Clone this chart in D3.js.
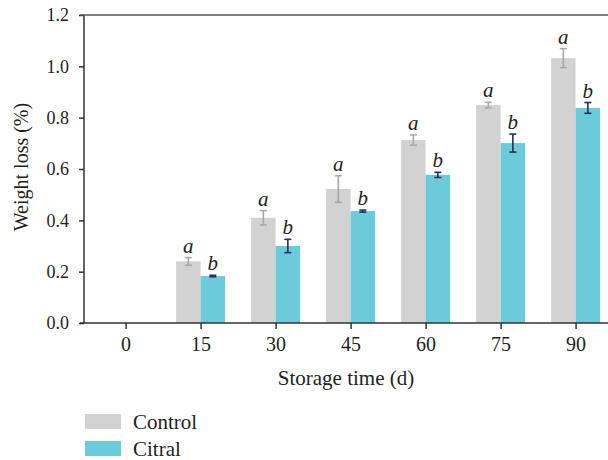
<!DOCTYPE html>
<html><head><meta charset="utf-8">
<script src="https://cdn.jsdelivr.net/npm/d3@7"></script>
<style>body{margin:0;background:#fff}svg{display:block}</style>
</head><body><svg id="c" width="608" height="460"></svg>
<script>
const days = ["0","15","30","45","60","75","90"];
const seriesNames = ["Control","Citral"];
const controlValues = [null,0.24,0.41,0.522,0.713,0.849,1.032];
const controlErrors = [null,0.015,0.028,0.052,0.02,0.011,0.037];
const citralValues = [null,0.183,0.30,0.436,0.577,0.701,0.838];
const citralErrors = [null,0.003,0.026,0.004,0.01,0.035,0.021];
const controlLetters = ["","a","a","a","a","a","a"];
const citralLetters = ["","b","b","b","b","b","b"];
const yTicks = [0,0.2,0.4,0.6,0.8,1.0,1.2];

const FONT = "'Liberation Serif', 'DejaVu Serif', serif";
const colors = {Control:"#d2d2d2", Citral:"#6bcbdb"};
const errColors = {Control:"#a8a8a8", Citral:"#2b2d5c"};

const svg = d3.select("#c");
const x = d3.scalePoint().domain(days).range([125.6,575.6]);
const xs = d3.scaleBand().domain(seriesNames).range([-24.5,24.5]);
const y = d3.scaleLinear().domain([0,1.2]).range([323,15]);

const rows = [];
days.forEach((d,i)=>{
  if(controlValues[i]!=null) rows.push({day:d,s:"Control",v:controlValues[i],e:controlErrors[i],l:controlLetters[i]});
  if(citralValues[i]!=null) rows.push({day:d,s:"Citral",v:citralValues[i],e:citralErrors[i],l:citralLetters[i]});
});

svg.append("g").selectAll("rect").data(rows).join("rect")
  .attr("x",d=>x(d.day)+xs(d.s)).attr("width",xs.bandwidth())
  .attr("y",d=>y(d.v)).attr("height",d=>y(0)-y(d.v))
  .attr("fill",d=>colors[d.s]);

const eg = svg.append("g");
rows.forEach(d=>{
  const cx = x(d.day)+xs(d.s)+xs.bandwidth()/2;
  const g = eg.append("g").attr("stroke",errColors[d.s]).attr("stroke-width",1.6);
  g.append("line").attr("x1",cx).attr("x2",cx).attr("y1",y(d.v+d.e)).attr("y2",y(d.v-d.e));
  [d.v+d.e,d.v-d.e].forEach(v=>g.append("line").attr("x1",cx-3.5).attr("x2",cx+3.5).attr("y1",y(v)).attr("y2",y(v)));
  svg.append("text").attr("x",cx).attr("y",y(d.v+d.e)-5).attr("text-anchor","middle")
    .style("font-family",FONT).style("font-style","italic").style("font-size","21px").attr("fill","#231f20").text(d.l);
});

const yAxis = svg.append("g").attr("transform","translate(84,0)")
  .call(d3.axisLeft(y).tickValues(yTicks).tickFormat(d3.format(".1f")).tickSize(5).tickPadding(10));
yAxis.attr("font-family",null);
yAxis.select(".domain").remove();
yAxis.selectAll("line").attr("stroke","#333").attr("stroke-width",1.5);
yAxis.selectAll("text").style("font-family",FONT).style("font-size","18px").attr("fill","#231f20");
svg.append("line").attr("x1",84).attr("x2",84).attr("y1",15).attr("y2",323).attr("stroke","#333").attr("stroke-width",1.5);
svg.append("line").attr("x1",80).attr("x2",608).attr("y1",15).attr("y2",15).attr("stroke","#555").attr("stroke-width",1.5);

const xAxis = svg.append("g").attr("transform","translate(0,323)")
  .call(d3.axisBottom(x).tickSize(6).tickPadding(8));
xAxis.attr("font-family",null);
xAxis.select(".domain").remove();
xAxis.selectAll("line").attr("stroke","#333").attr("stroke-width",1.5);
xAxis.selectAll("text").style("font-family",FONT).style("font-size","20px").attr("fill","#231f20");
svg.append("line").attr("x1",80).attr("x2",608).attr("y1",323).attr("y2",323).attr("stroke","#333").attr("stroke-width",1.5);

svg.append("text").attr("x",346).attr("y",385).attr("text-anchor","middle")
  .style("font-family",FONT).style("font-size","21px").attr("fill","#231f20").text("Storage time (d)");
svg.append("text").attr("transform","translate(28,167) rotate(-90)").attr("text-anchor","middle")
  .style("font-family",FONT).style("font-size","20px").attr("fill","#231f20").text("Weight loss (%)");

seriesNames.forEach((s,i)=>{
  const yy = 414 + i*27;
  svg.append("rect").attr("x",85).attr("y",yy).attr("width",36).attr("height",15).attr("fill",colors[s]);
  svg.append("text").attr("x",133).attr("y",yy+15)
    .style("font-family",FONT).style("font-size","21px").attr("fill","#231f20").text(s);
});
</script></body></html>
